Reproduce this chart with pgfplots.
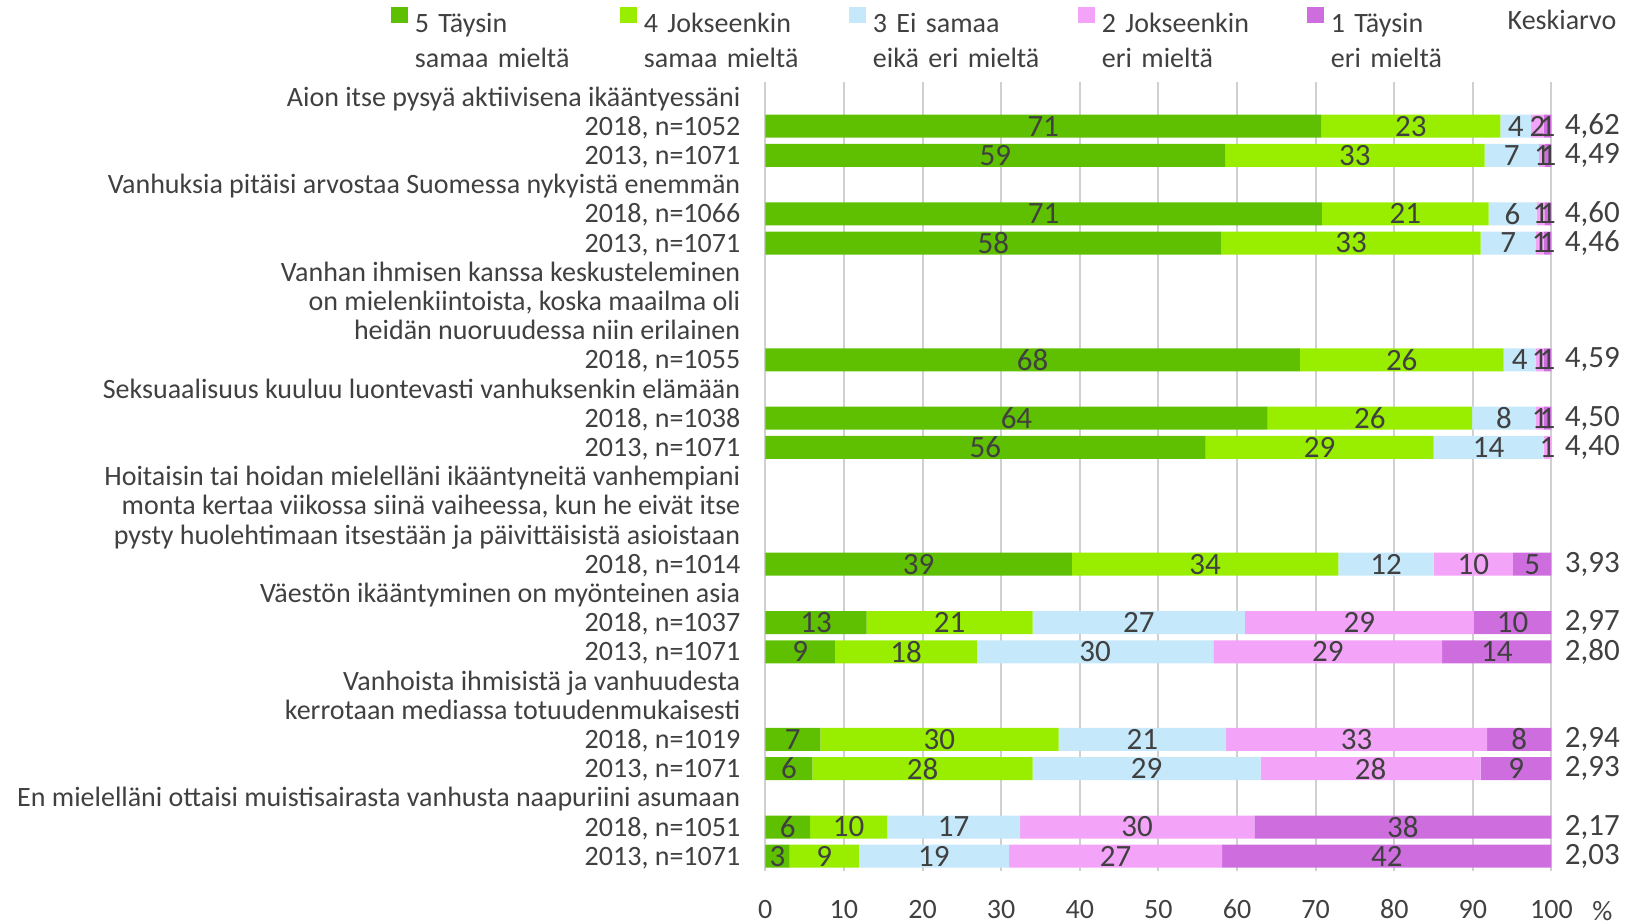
\documentclass[border=0pt]{standalone}
\usepackage{pgfplots}
\pgfplotsset{compat=1.18}
\usepackage{fontspec}
\setmainfont{Carlito}
\definecolor{c5}{HTML}{5EC000}
\definecolor{c4}{HTML}{99EE00}
\definecolor{c3}{HTML}{C5E8FA}
\definecolor{c2}{HTML}{F3A3F8}
\definecolor{c1}{HTML}{CE6EDE}
\definecolor{txt}{HTML}{404040}
\definecolor{grd}{HTML}{D0D0D0}
\newcommand{\fs}{\fontsize{14bp}{17.5bp}\selectfont}
\newcommand{\fv}{\fontsize{15.5bp}{18bp}\selectfont}
\pgfplotsset{
  common/.style={
    scale only axis, width=393.1bp, height=394.2bp,
    xmin=0, xmax=100, ymin=-0.5, ymax=26.5, y dir=reverse,
    clip=false,
  }
}
\begin{document}
\begin{tikzpicture}[font=\fs, text=txt]
\path[use as bounding box] (-382.65bp,-26.6bp) rectangle (434.85bp,435.4bp);
\begin{axis}[common,
  xbar stacked, bar width=11.5bp,
  axis line style={draw=none},
  xtick={0,10,...,100},
  major tick length=0pt,
  xmajorgrids, grid style={grd, line width=1bp},
  ytick={0,...,26},
  yticklabels={
    Aion itse pysyä aktiivisena ikääntyessäni,
    {2018, n=1052},
    {2013, n=1071},
    Vanhuksia pitäisi arvostaa Suomessa nykyistä enemmän,
    {2018, n=1066},
    {2013, n=1071},
    Vanhan ihmisen kanssa keskusteleminen,
    {on mielenkiintoista, koska maailma oli},
    heidän nuoruudessa niin erilainen,
    {2018, n=1055},
    Seksuaalisuus kuuluu luontevasti vanhuksenkin elämään,
    {2018, n=1038},
    {2013, n=1071},
    Hoitaisin tai hoidan mielelläni ikääntyneitä vanhempiani,
    {monta kertaa viikossa siinä vaiheessa, kun he eivät itse},
    pysty huolehtimaan itsestään ja päivittäisistä asioistaan,
    {2018, n=1014},
    Väestön ikääntyminen on myönteinen asia,
    {2018, n=1037},
    {2013, n=1071},
    Vanhoista ihmisistä ja vanhuudesta,
    kerrotaan mediassa totuudenmukaisesti,
    {2018, n=1019},
    {2013, n=1071},
    En mielelläni ottaisi muistisairasta vanhusta naapuriini asumaan,
    {2018, n=1051},
    {2013, n=1071}
  },
  /pgf/number format/assume math mode=true,
  tick label style={font=\fs, text=txt},
  xticklabel style={yshift=-11bp},
  yticklabel style={anchor=base east, xshift=-9bp, yshift=-4.5bp},
  legend columns=5,
  legend style={at={(-0.4761,1.0958)}, anchor=north west, draw=none, fill=none,
    inner sep=0pt, outer sep=0pt,
    nodes={align=left, text width=95bp, inner xsep=0pt, inner ysep=0pt, font=\fs, text=txt},
    /tikz/every odd column/.append style={column sep=3.7bp},
    /tikz/every even column/.append style={column sep=7.5bp}},
  legend image code/.code={\fill[#1] (0bp,0.4bp) rectangle (8.3bp,8.7bp);},
]
\addplot[fill=c5, draw=none] coordinates {(70.7,1) (58.5,2) (70.8,4) (58.0,5) (68.0,9) (63.9,11) (56.0,12) (39.0,16) (12.9,18) (8.9,19) (7.0,22) (6.0,23) (5.7,25) (3.1,26)};
\addlegendentry{5 Täysin\\samaa mieltä}
\addplot[fill=c4, draw=none] coordinates {(22.8,1) (33.0,2) (21.2,4) (33.0,5) (25.9,9) (26.0,11) (29.0,12) (33.9,16) (21.1,18) (18.0,19) (30.3,22) (28.0,23) (9.8,25) (8.8,26)};
\addlegendentry{4 Jokseenkin\\samaa mieltä}
\addplot[fill=c3, draw=none] coordinates {(3.9,1) (6.9,2) (6.1,4) (7.0,5) (4.1,9) (8.1,11) (14.0,12) (12.1,16) (27.0,18) (30.1,19) (21.3,22) (29.0,23) (16.9,25) (19.1,26)};
\addlegendentry{3 Ei samaa\\eikä eri mieltä}
\addplot[fill=c2, draw=none] coordinates {(1.6,1) (0.8,2) (1.0,4) (1.0,5) (1.0,9) (1.0,11) (1.0,12) (10.1,16) (29.1,18) (29.1,19) (33.2,22) (28.0,23) (29.8,25) (27.1,26)};
\addlegendentry{2 Jokseenkin\\eri mieltä}
\addplot[fill=c1, draw=none] coordinates {(1.0,1) (0.8,2) (0.9,4) (1.0,5) (1.0,9) (1.0,11) (0.0,12) (4.9,16) (9.9,18) (13.9,19) (8.2,22) (9.0,23) (37.8,25) (41.9,26)};
\addlegendentry{1 Täysin\\eri mieltä}
\end{axis}
\begin{axis}[common, hide axis]
\addplot[draw=none, mark=none, nodes near coords, point meta=explicit symbolic,
  nodes near coords style={anchor=center, font=\fv, text=txt}] table[meta=l] {
x y l
35.35 1 71
82.1 1 23
95.45 1 4
98.2 1 2
99.5 1 1
29.25 2 59
75.0 2 33
94.95 2 7
98.8 2 1
99.6 2 1
35.4 4 71
81.4 4 21
95.05 4 6
98.6 4 1
99.55 4 1
29.0 5 58
74.5 5 33
94.5 5 7
98.5 5 1
99.5 5 1
34.0 9 68
80.95 9 26
95.95 9 4
98.5 9 1
99.5 9 1
31.95 11 64
76.9 11 26
93.95 11 8
98.5 11 1
99.5 11 1
28.0 12 56
70.5 12 29
92.0 12 14
99.5 12 1
19.5 16 39
55.95 16 34
78.95 16 12
90.05 16 10
97.55 16 5
6.45 18 13
23.45 18 21
47.5 18 27
75.55 18 29
95.05 18 10
4.45 19 9
17.9 19 18
41.95 19 30
71.55 19 29
93.05 19 14
3.5 22 7
22.15 22 30
47.95 22 21
75.2 22 33
95.9 22 8
3.0 23 6
20.0 23 28
48.5 23 29
77.0 23 28
95.5 23 9
2.85 25 6
10.6 25 10
23.95 25 17
47.3 25 30
81.1 25 38
1.55 26 3
7.5 26 9
21.45 26 19
44.55 26 27
79.05 26 42
};
\addplot[draw=none, mark=none, nodes near coords, point meta=explicit symbolic,
  nodes near coords style={anchor=west, xshift=3.2bp, font=\fv, text=txt}] table[meta=l] {
x y l
100 1 4,62
100 2 4,49
100 4 4,60
100 5 4,46
100 9 4,59
100 11 4,50
100 12 4,40
100 16 3,93
100 18 2,97
100 19 2,80
100 22 2,94
100 23 2,93
100 25 2,17
100 26 2,03
};
\node[anchor=base, font=\fs, text=txt] at (axis description cs:1.0134,1.0665) {Keskiarvo};
\node[font=\fs, text=txt] at (axis description cs:1.0646,-0.0508) {\%};
\end{axis}
\end{tikzpicture}
\end{document}
